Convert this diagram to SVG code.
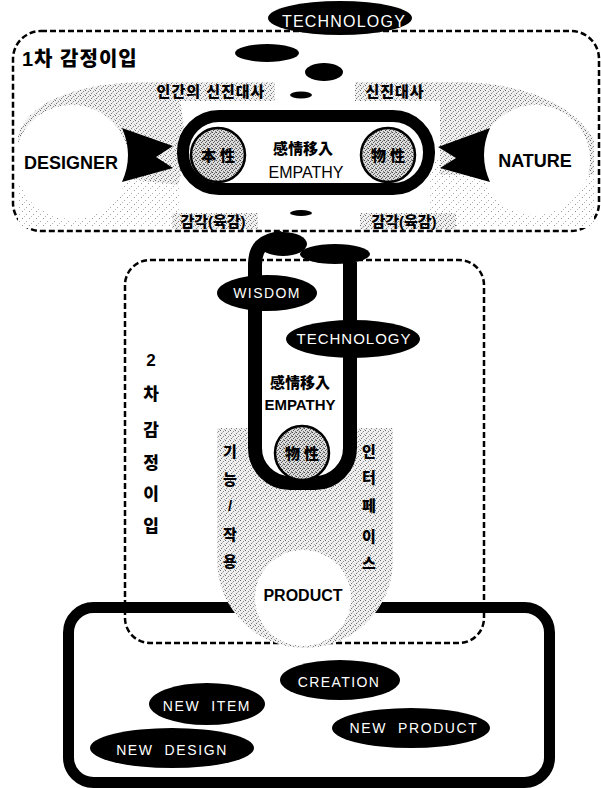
<svg xmlns="http://www.w3.org/2000/svg" width="601" height="788" viewBox="0 0 601 788">
<defs>
<pattern id="st" width="5" height="5" patternUnits="userSpaceOnUse">
<rect width="5" height="5" fill="#f0f0f0"/>
<rect x="0" y="0" width="1" height="1" fill="#666"/>
<rect x="3" y="1" width="1" height="1" fill="#888"/>
<rect x="1" y="3" width="1" height="1" fill="#777"/>
<rect x="4" y="4" width="1" height="1" fill="#aaa"/>
<rect x="2" y="2" width="1" height="1" fill="#bbb"/>
</pattern>
<pattern id="sp" width="7" height="7" patternUnits="userSpaceOnUse">
<rect width="7" height="7" fill="#fff"/>
<rect x="1" y="1" width="1" height="1" fill="#999"/>
<rect x="5" y="4" width="1" height="1" fill="#aaa"/>
<rect x="3" y="6" width="1" height="1" fill="#bbb"/>
</pattern>
<pattern id="st2" width="4" height="4" patternUnits="userSpaceOnUse">
<rect width="4" height="4" fill="#dcdcdc"/>
<rect x="0" y="0" width="1" height="1" fill="#444"/>
<rect x="2" y="1" width="1" height="1" fill="#666"/>
<rect x="1" y="2" width="1" height="1" fill="#555"/>
<rect x="3" y="3" width="1" height="1" fill="#777"/>
<rect x="3" y="0" width="1" height="1" fill="#999"/>
</pattern>
<style>
.dash{fill:none;stroke:#000;stroke-width:2.5;stroke-dasharray:6 3}
.blk{fill:#000}
.wt{fill:#fff;font-family:"Liberation Sans",Arial,sans-serif;font-size:14px;letter-spacing:1.4px;text-anchor:middle}
.lat{font-family:"Liberation Sans",Arial,sans-serif;font-weight:bold;fill:#000;text-anchor:middle}
.kr{font-family:"Liberation Sans","Noto Sans CJK KR","Noto Sans CJK SC",sans-serif;font-weight:900;fill:#000;text-anchor:middle}
.thick{fill:#fff;stroke:#000;stroke-width:12}
.circ{fill:url(#st2);stroke:#000;stroke-width:2.5}
.stp{fill:url(#st)}
.spr{fill:url(#sp)}
</style>
</defs>
<rect width="601" height="788" fill="#fff"/>

<g id="box1">
<rect class="dash" x="13" y="31" width="586" height="200" rx="28"/>
<path class="spr" d="M18,170 L180,170 L180,228 L18,228 Z"/>
<path class="spr" d="M430,160 L594,160 L594,228 L430,228 Z"/>
<path class="stp" d="M18,135 C30,100 80,82 150,82 L275,82 L275,101 L180,101 C186,130 186,160 178,185 C140,180 90,175 18,170 Z"/>
<path class="stp" d="M355,82 L465,82 C525,84 575,105 594,140 L594,175 L440,175 L440,101 L355,101 Z"/>
<rect class="stp" x="172" y="213" width="86" height="16"/>
<rect class="stp" x="360" y="213" width="96" height="16"/>
<text class="kr" x="22" y="66" style="text-anchor:start;font-size:20px;letter-spacing:1px">1차 감정이입</text>
<text class="kr" x="211" y="97" style="font-size:15px;letter-spacing:1px">인간의 신진대사</text>
<text class="kr" x="395" y="97" style="font-size:15px;letter-spacing:1px">신진대사</text>
<text class="kr" x="213" y="227" style="font-size:15px">감각(육감)</text>
<text class="kr" x="404" y="227" style="font-size:15px">감각(육감)</text>
</g>

<g id="designer">
<circle cx="72" cy="162" r="57" fill="#fff"/>
<text class="lat" x="71" y="169" style="font-size:18px">DESIGNER</text>
</g>

<g id="nature">
<circle cx="535" cy="160" r="55" fill="#fff"/>
<text class="lat" x="535" y="167" style="font-size:18px">NATURE</text>
</g>

<g id="empathy1">
<rect class="thick" x="183" y="116" width="246" height="73" rx="36"/>
<text class="kr" x="303" y="154" style="font-size:15px">感情移入</text>
<text x="306" y="178" style="font-family:'Liberation Sans',Arial,sans-serif;font-size:16px;text-anchor:middle">EMPATHY</text>
</g>

<g id="honsung">
<circle class="circ" cx="218" cy="155" r="27"/>
<text class="kr" x="218" y="161" style="font-size:15px">本 性</text>
</g>

<g id="mulsung1">
<circle class="circ" cx="388" cy="155" r="27"/>
<text class="kr" x="388" y="161" style="font-size:15px">物 性</text>
</g>

<g id="blobs1">
<ellipse class="blk" cx="267" cy="53" rx="32" ry="9"/>
<ellipse class="blk" cx="324" cy="72" rx="19" ry="9"/>
<ellipse class="blk" cx="301" cy="95" rx="11" ry="3.5"/>
<ellipse class="blk" cx="301" cy="213" rx="11" ry="3"/>
</g>

<g id="technology1">
<ellipse class="blk" cx="340" cy="18" rx="72" ry="17"/>
<text class="wt" x="344" y="27" style="font-size:16px;letter-spacing:1.2px">TECHNOLOGY</text>
</g>

<g id="box2">
<rect class="dash" x="125" y="260" width="359" height="383" rx="25"/>
<text class="kr" x="151" y="366" style="font-size:17px">2</text>
<text class="kr" x="151" y="400" style="font-size:17px">차</text>
<text class="kr" x="151" y="436" style="font-size:17px">감</text>
<text class="kr" x="151" y="469" style="font-size:17px">정</text>
<text class="kr" x="151" y="500" style="font-size:17px">이</text>
<text class="kr" x="151" y="532" style="font-size:17px">입</text>
</g>

<g id="box3">
<rect x="68.5" y="607.5" width="481" height="175" rx="25" fill="none" stroke="#000" stroke-width="11"/>
</g>

<g id="product">
<path class="stp" d="M217,428 H393 V560 A88,88 0 0 1 217,560 Z"/>
<circle cx="303" cy="598" r="48" fill="#fff"/>
<text class="lat" x="303" y="601" style="font-size:16px">PRODUCT</text>
<text class="kr" x="230" y="457" style="font-size:15px">기</text>
<text class="kr" x="230" y="485" style="font-size:15px">능</text>
<text class="kr" x="230" y="511" style="font-size:15px">/</text>
<text class="kr" x="230" y="540" style="font-size:15px">작</text>
<text class="kr" x="230" y="567" style="font-size:15px">용</text>
<text class="kr" x="369" y="457" style="font-size:15px">인</text>
<text class="kr" x="369" y="483" style="font-size:15px">터</text>
<text class="kr" x="369" y="511" style="font-size:15px">페</text>
<text class="kr" x="369" y="542" style="font-size:15px">이</text>
<text class="kr" x="369" y="569" style="font-size:15px">스</text>
</g>

<g id="connectors">
<path class="blk" d="M122,128 L173,146 L156,157 L173,168 L122,182 Q134,155 122,128 Z"/>
<path class="blk" d="M490,128 L438,147 L456,158 L440,168 L490,182 Q478,155 490,128 Z"/>
<path d="M255,262 V448 A35,35 0 0 0 290,483 H315 A35,35 0 0 0 350,448 V262" fill="#fff" stroke="#000" stroke-width="14"/>
<path d="M255,265 C255,248 262,240 282,238" fill="none" stroke="#000" stroke-width="14"/>
<ellipse class="blk" cx="283" cy="244" rx="24" ry="12"/>
<ellipse class="blk" cx="335" cy="254" rx="35" ry="10"/>
</g>

<g id="empathy2">
<text class="kr" x="300" y="388" style="font-size:15px">感情移入</text>
<text class="lat" x="300" y="410" style="font-size:15px">EMPATHY</text>
</g>

<g id="mulsung2">
<circle class="circ" cx="302" cy="453" r="27"/>
<text class="kr" x="302" y="459" style="font-size:15px">物 性</text>
</g>

<g id="wisdom">
<ellipse class="blk" cx="267" cy="293" rx="50" ry="18"/>
<text class="wt" x="267" y="298">WISDOM</text>
</g>

<g id="technology2">
<ellipse class="blk" cx="353" cy="339" rx="67" ry="19"/>
<text class="wt" x="354" y="344" style="font-size:15px;letter-spacing:1px">TECHNOLOGY</text>
</g>

<g id="creation">
<ellipse class="blk" cx="340" cy="680" rx="60" ry="20"/>
<text class="wt" x="339" y="687">CREATION</text>
</g>
<g id="newitem">
<ellipse class="blk" cx="207" cy="704" rx="58" ry="21"/>
<text class="wt" x="207" y="711" style="letter-spacing:1.6px" xml:space="preserve">NEW  ITEM</text>
</g>
<g id="newproduct">
<ellipse class="blk" cx="411" cy="728" rx="79" ry="20"/>
<text class="wt" x="414" y="733" style="letter-spacing:1.6px" xml:space="preserve">NEW  PRODUCT</text>
</g>
<g id="newdesign">
<ellipse class="blk" cx="172" cy="748" rx="82" ry="20"/>
<text class="wt" x="172" y="755" style="letter-spacing:1.6px" xml:space="preserve">NEW  DESIGN</text>
</g>
</svg>
